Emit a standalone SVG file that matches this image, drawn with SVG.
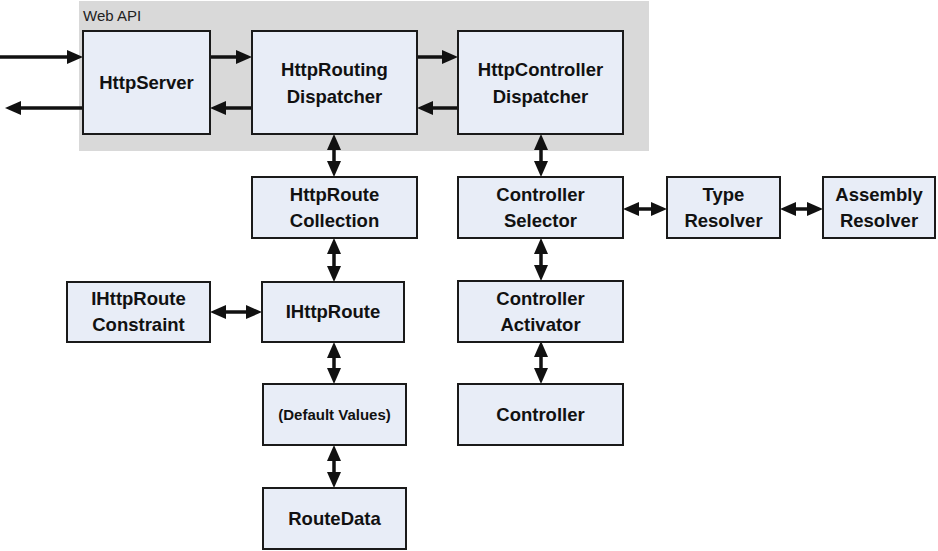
<svg xmlns="http://www.w3.org/2000/svg" width="938" height="551" viewBox="0 0 938 551">
<defs>
<marker id="ah" markerUnits="userSpaceOnUse" markerWidth="16" markerHeight="14" refX="7" refY="7" orient="auto-start-reverse" viewBox="0 0 16 14">
<path d="M0,0 L16,7 L0,14 z" fill="#111"/>
</marker>
<style>
.box{fill:#e8edf7;stroke:#1a1a1a;stroke-width:2}
.t{font-family:"Liberation Sans",Arial,sans-serif;font-weight:bold;font-size:18.5px;fill:#111;text-anchor:middle}
.s{font-size:15px}
.c{stroke:#111;stroke-width:3.5;fill:none}
.one{marker-end:url(#ah)}
.two{marker-start:url(#ah);marker-end:url(#ah)}
</style>
</defs>
<rect x="79" y="1" width="570" height="150" fill="#d9d9d9"/>
<text x="83" y="21" font-family="Liberation Sans,Arial,sans-serif" font-size="15" fill="#222">Web API</text>
<g id="connectors">
<path class="c one" d="M0,57 H74"/>
<path class="c one" d="M83,108 H14"/>
<path class="c one" d="M210,57 H243"/>
<path class="c one" d="M252,108 H219"/>
<path class="c one" d="M417,57 H449"/>
<path class="c one" d="M458,108 H426"/>
<path class="c two" d="M334,143 V168"/>
<path class="c two" d="M541,143 V168"/>
<path class="c two" d="M334,247 V273"/>
<path class="c two" d="M541,247 V272"/>
<path class="c two" d="M334,351 V375"/>
<path class="c two" d="M541,350 V375"/>
<path class="c two" d="M334,454 V479"/>
<path class="c two" d="M219,312 H253"/>
<path class="c two" d="M632,209 H658"/>
<path class="c two" d="M789,209 H814"/>
</g>
<g id="httpserver"><rect class="box" x="83" y="31" width="127" height="103"/><text class="t" x="146.5" y="89">HttpServer</text></g>
<g id="httproutingdispatcher"><rect class="box" x="252" y="31" width="165" height="103"/><text class="t" x="334.5" y="76">HttpRouting</text><text class="t" x="334.5" y="103">Dispatcher</text></g>
<g id="httpcontrollerdispatcher"><rect class="box" x="458" y="31" width="165" height="103"/><text class="t" x="540.5" y="76">HttpController</text><text class="t" x="540.5" y="103">Dispatcher</text></g>
<g id="httproutecollection"><rect class="box" x="252" y="177" width="165" height="61"/><text class="t" x="334.5" y="201">HttpRoute</text><text class="t" x="334.5" y="227">Collection</text></g>
<g id="controllerselector"><rect class="box" x="458" y="177" width="165" height="61"/><text class="t" x="540.5" y="201">Controller</text><text class="t" x="540.5" y="227">Selector</text></g>
<g id="typeresolver"><rect class="box" x="667" y="177" width="113" height="61"/><text class="t" x="723.5" y="201">Type</text><text class="t" x="723.5" y="227">Resolver</text></g>
<g id="assemblyresolver"><rect class="box" x="823" y="177" width="112" height="61"/><text class="t" x="879" y="201">Assembly</text><text class="t" x="879" y="227">Resolver</text></g>
<g id="ihttprouteconstraint"><rect class="box" x="67" y="282" width="143" height="60"/><text class="t" x="138.5" y="305">IHttpRoute</text><text class="t" x="138.5" y="331">Constraint</text></g>
<g id="ihttproute"><rect class="box" x="262" y="282" width="142" height="60"/><text class="t" x="333" y="318">IHttpRoute</text></g>
<g id="controlleractivator"><rect class="box" x="458" y="281" width="165" height="61"/><text class="t" x="540.5" y="305">Controller</text><text class="t" x="540.5" y="331">Activator</text></g>
<g id="defaultvalues"><rect class="box" x="263" y="384" width="143" height="61"/><text class="t s" x="334.5" y="420">(Default Values)</text></g>
<g id="controller"><rect class="box" x="458" y="384" width="165" height="61"/><text class="t" x="540.5" y="421">Controller</text></g>
<g id="routedata"><rect class="box" x="263" y="488" width="143" height="61"/><text class="t" x="334.5" y="525">RouteData</text></g>
</svg>
